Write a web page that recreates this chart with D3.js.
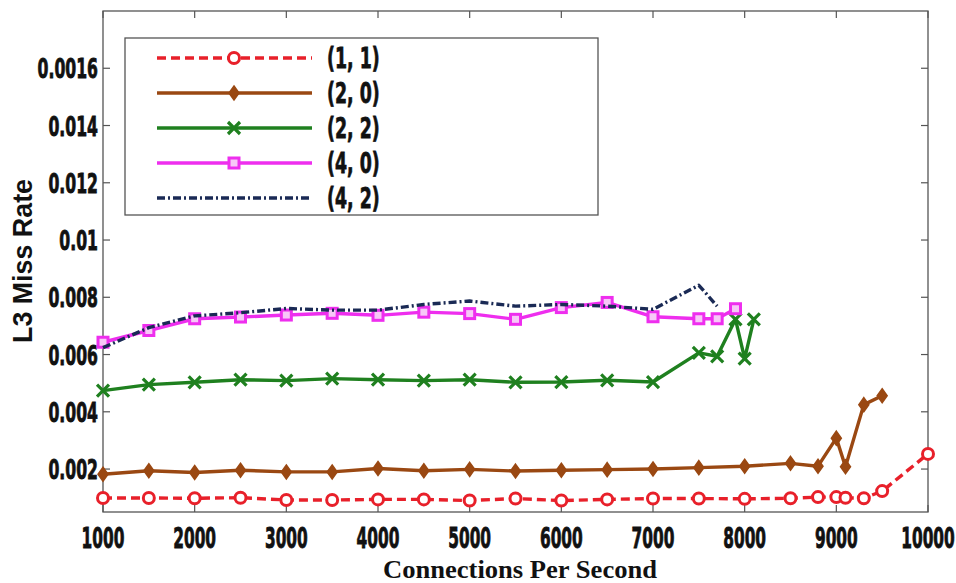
<!DOCTYPE html>
<html><head><meta charset="utf-8">
<script src="https://cdn.jsdelivr.net/npm/d3@7"></script>
<style>body{margin:0;background:#fff}svg{display:block}</style>
</head><body>
<svg id="c" width="956" height="583"></svg>
<script>
// ---- data ----
const xTicks = [1000,2000,3000,4000,5000,6000,7000,8000,9000,10000];
const xTickLabels = ["1000","2000","3000","4000","5000","6000","7000","8000","9000","10000"];
const yTicks = [0.002,0.004,0.006,0.008,0.01,0.012,0.014,0.016];
const yTickLabels = ["0.002","0.004","0.006","0.008","0.01","0.012","0.014","0.0016"];
const seriesNames = ["(1, 1)","(2, 0)","(2, 2)","(4, 0)","(4, 2)"];

const x11 = [1000,1500,2000,2500,3000,3500,4000,4500,5000,5500,6000,6500,7000,7500,8000,8500,8800,9000,9100,9300,9500,10000];
const y11 = [0.00099,0.00099,0.00098,0.00100,0.00092,0.00092,0.00094,0.00094,0.00090,0.00097,0.00090,0.00094,0.00097,0.00097,0.00096,0.00098,0.00102,0.00102,0.00100,0.00098,0.00123,0.00253];

const x20 = [1000,1500,2000,2500,3000,3500,4000,4500,5000,5500,6000,6500,7000,7500,8000,8500,8800,9000,9100,9300,9500];
const y20 = [0.00182,0.00194,0.00188,0.00196,0.00190,0.00190,0.00202,0.00194,0.00199,0.00193,0.00196,0.00198,0.00200,0.00205,0.00210,0.00220,0.00210,0.00308,0.00208,0.00425,0.00456];

const x22 = [1000,1500,2000,2500,3000,3500,4000,4500,5000,5500,6000,6500,7000,7500,7700,7900,8000,8100];
const y22 = [0.00474,0.00495,0.00503,0.00512,0.00509,0.00516,0.00512,0.00509,0.00512,0.00503,0.00504,0.00510,0.00504,0.00606,0.00594,0.00723,0.00586,0.00723];

const x40 = [1000,1500,2000,2500,3000,3500,4000,4500,5000,5500,6000,6500,7000,7500,7700,7900];
const y40 = [0.00643,0.00684,0.00725,0.00731,0.00738,0.00744,0.00737,0.00748,0.00743,0.00723,0.00764,0.00782,0.00732,0.00725,0.00725,0.00760];

const x42 = [1000,1500,2000,2500,3000,3500,4000,4500,5000,5500,6000,6500,7000,7500,7700];
const y42 = [0.00624,0.00694,0.00735,0.00746,0.00761,0.00755,0.00755,0.00775,0.00787,0.00769,0.00775,0.00769,0.00758,0.00842,0.00769];

// ---- styles ----
const styles = [
  {xs:x11, ys:y11, color:"#e8202a", dash:"9,5", marker:"circle"},
  {xs:x20, ys:y20, color:"#9a4812", dash:null, marker:"diamond"},
  {xs:x22, ys:y22, color:"#1f801f", dash:null, marker:"cross"},
  {xs:x40, ys:y40, color:"#ee2eee", dash:null, marker:"square"},
  {xs:x42, ys:y42, color:"#1a2a55", dash:"8,3,2,3", marker:null}
];

const svg = d3.select("#c");
const L=103, R=928, T=11, B=512;
const x = d3.scaleLinear().domain([1000,10000]).range([L,R]);
const y = d3.scaleLinear().domain([0.0005,0.018]).range([B,T]);
const tickFont = "'DejaVu Sans', sans-serif";

// ticks (inside, all four sides)
const tk = svg.append("g").attr("stroke","#555").attr("stroke-width",1.2);
xTicks.forEach(v=>{
  tk.append("line").attr("x1",x(v)).attr("x2",x(v)).attr("y1",B).attr("y2",B-7);
  tk.append("line").attr("x1",x(v)).attr("x2",x(v)).attr("y1",T).attr("y2",T+7);
});
yTicks.forEach(v=>{
  tk.append("line").attr("x1",L).attr("x2",L+7).attr("y1",y(v)).attr("y2",y(v));
  tk.append("line").attr("x1",R).attr("x2",R-7).attr("y1",y(v)).attr("y2",y(v));
});
// frame
svg.append("rect").attr("x",L).attr("y",T).attr("width",R-L).attr("height",B-T)
  .attr("fill","none").attr("stroke","#555").attr("stroke-width",1.3);

// tick labels
xTicks.forEach((v,i)=>{
  svg.append("text").attr("transform",`translate(${x(v)},548) scale(0.55,1)`)
    .attr("text-anchor","middle").attr("font-family",tickFont).attr("font-weight","bold")
    .attr("font-size",28).attr("fill","#111").attr("stroke","#111").attr("stroke-width",0.9)
    .text(xTickLabels[i]);
});
yTicks.forEach((v,i)=>{
  svg.append("text").attr("transform",`translate(98,${y(v)+10}) scale(0.58,1)`)
    .attr("text-anchor","end").attr("font-family",tickFont).attr("font-weight","bold")
    .attr("font-size",27).attr("fill","#111").attr("stroke","#111").attr("stroke-width",0.9)
    .text(yTickLabels[i]);
});

// axis titles
svg.append("text").attr("x",520).attr("y",578).attr("text-anchor","middle")
  .attr("font-family","'Liberation Serif', serif").attr("font-weight","bold")
  .attr("font-size",25).attr("textLength",274).attr("lengthAdjust","spacingAndGlyphs")
  .attr("fill","#111").text("Connections Per Second");
svg.append("text").attr("transform","translate(32,261) rotate(-90)").attr("text-anchor","middle")
  .attr("font-family","'Liberation Sans', Arial, sans-serif").attr("font-weight","bold")
  .attr("font-size",27).attr("textLength",164).attr("lengthAdjust","spacingAndGlyphs")
  .attr("fill","#111").text("L3 Miss Rate");

// markers
function drawMarker(g, type, cx, cy, color){
  if(type==="circle"){
    g.append("circle").attr("cx",cx).attr("cy",cy).attr("r",5.5)
      .attr("fill","#fff").attr("stroke",color).attr("stroke-width",3);
  } else if(type==="diamond"){
    g.append("path").attr("d",`M${cx},${cy-7}L${cx+5},${cy}L${cx},${cy+7}L${cx-5},${cy}Z`)
      .attr("fill",color).attr("stroke",color).attr("stroke-width",1.5);
  } else if(type==="cross"){
    const s=6;
    g.append("path").attr("d",`M${cx-s},${cy-s}L${cx+s},${cy+s}M${cx-s},${cy+s}L${cx+s},${cy-s}`)
      .attr("stroke",color).attr("stroke-width",3.2).attr("fill","none");
  } else if(type==="square"){
    g.append("rect").attr("x",cx-5).attr("y",cy-5).attr("width",10).attr("height",10)
      .attr("fill","#f7c8f7").attr("stroke",color).attr("stroke-width",3);
  }
}

// series
const line = d3.line().x(d=>x(d[0])).y(d=>y(d[1]));
styles.forEach(s=>{
  const pts = s.xs.map((v,i)=>[v,s.ys[i]]);
  const g = svg.append("g");
  g.append("path").attr("d",line(pts)).attr("fill","none").attr("stroke",s.color)
    .attr("stroke-width",3.4).attr("stroke-dasharray",s.dash).attr("stroke-linejoin","round");
  if(s.marker) pts.forEach(p=>drawMarker(g,s.marker,x(p[0]),y(p[1]),s.color));
});

// legend
const lg = svg.append("g");
lg.append("rect").attr("x",125).attr("y",38).attr("width",473).attr("height",177)
  .attr("fill","#fff").attr("stroke","#555").attr("stroke-width",1.3);
styles.forEach((s,i)=>{
  const ry = 58 + i*35;
  lg.append("line").attr("x1",157).attr("x2",312).attr("y1",ry).attr("y2",ry)
    .attr("stroke",s.color).attr("stroke-width",3.4).attr("stroke-dasharray",s.dash);
  if(s.marker) drawMarker(lg,s.marker,234,ry,s.color);
  lg.append("text").attr("transform",`translate(327,${ry+10}) scale(0.62,1)`)
    .attr("font-family",tickFont).attr("font-weight","bold").attr("font-size",28)
    .attr("fill","#111").attr("stroke","#111").attr("stroke-width",0.8).text(seriesNames[i]);
});
</script>
</body></html>
